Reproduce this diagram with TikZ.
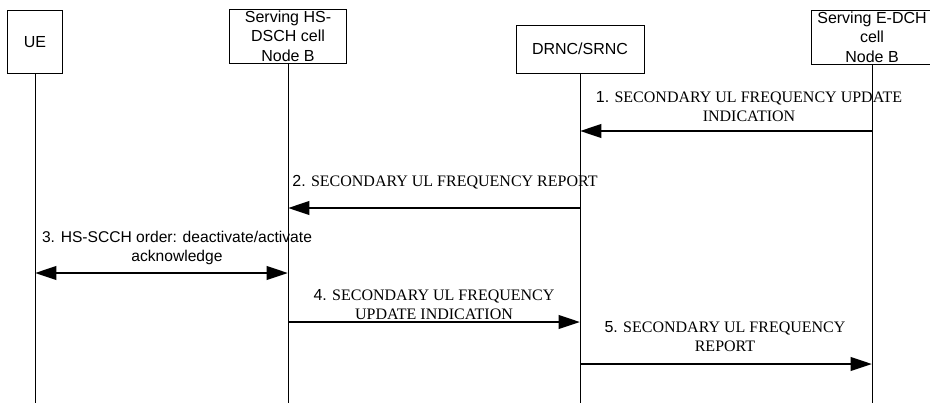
\documentclass[tikz,border=0pt]{standalone}
\usepackage{fontspec}
\setmainfont{Liberation Serif}
\setsansfont{Liberation Sans}
\usetikzlibrary{arrows.meta,positioning}

\begin{document}
\begin{tikzpicture}[x=0.75pt, y=-0.75pt,
        entity/.style={rectangle, draw=black, line width=0.6pt, align=center, inner sep=0pt,
          font=\sffamily\fontsize{12}{14.6}\selectfont},
        lifeline/.style={line width=0.7pt},
        msg/.style={-{Triangle[length=16pt, width=10pt]}, line width=2pt},
        twoway/.style={{Triangle[length=16pt, width=10pt]}-{Triangle[length=16pt, width=10pt]}, line width=2pt},
        msglabel/.style={align=center, inner sep=0pt, font=\fontsize{12}{14.25}\selectfont}
      ]
        \useasboundingbox (0,0) rectangle (930,403);

        \node[entity, minimum width=41pt, minimum height=47pt]   (ue)   at (35,42)  {UE};
        \node[entity, minimum width=88pt, minimum height=40.5pt] (hs)   at (288,36) {Serving HS-\\DSCH cell\\Node B};
        \node[entity, minimum width=96pt, minimum height=36pt]   (rnc)  at (580,49) {DRNC/SRNC};
        \node[entity, minimum width=91.5pt, minimum height=40.5pt] (edch) at (872,37) {Serving E-DCH\\cell\\Node B};

        \coordinate (ueEnd)   at (ue.south |- 0,403);
        \coordinate (hsEnd)   at (hs.south |- 0,403);
        \coordinate (rncEnd)  at (rnc.south |- 0,403);
        \coordinate (edchEnd) at (edch.south |- 0,403);

        \draw[lifeline] (ue.south)   -- (ueEnd);
        \draw[lifeline] (hs.south)   -- (hsEnd);
        \draw[lifeline] (rnc.south)  -- (rncEnd);
        \draw[lifeline] (edch.south) -- (edchEnd);

        % messages
        \draw[msg]    (edch |- 0,131) -- (rnc |- 0,131);
        \draw[msg]    (rnc |- 0,208)  -- (hs |- 0,208);
        \draw[twoway] (ue |- 0,273)   -- (hs |- 0,273);
        \draw[msg]    (hs |- 0,322)   -- (rnc |- 0,322);
        \draw[msg]    (rnc |- 0,364)  -- (edch |- 0,364);

        \node[msglabel] (m1) at (749,107)   {\textsf{1.} SECONDARY UL FREQUENCY UPDATE\\INDICATION};
        \node[msglabel] (m2) at (445,182)   {\textsf{2.} SECONDARY UL FREQUENCY REPORT};
        \node[msglabel, font=\sffamily\fontsize{11.7}{14.25}\selectfont] (m3) at (177,248)
          {3. HS-SCCH order: deactivate/activate\\acknowledge};
        \node[msglabel] (m4) at (434,305) {\textsf{4.} SECONDARY UL FREQUENCY\\UPDATE INDICATION};
        \node[msglabel] (m5) at (725,337) {\textsf{5.} SECONDARY UL FREQUENCY\\REPORT};
      \end{tikzpicture}
\end{document}
